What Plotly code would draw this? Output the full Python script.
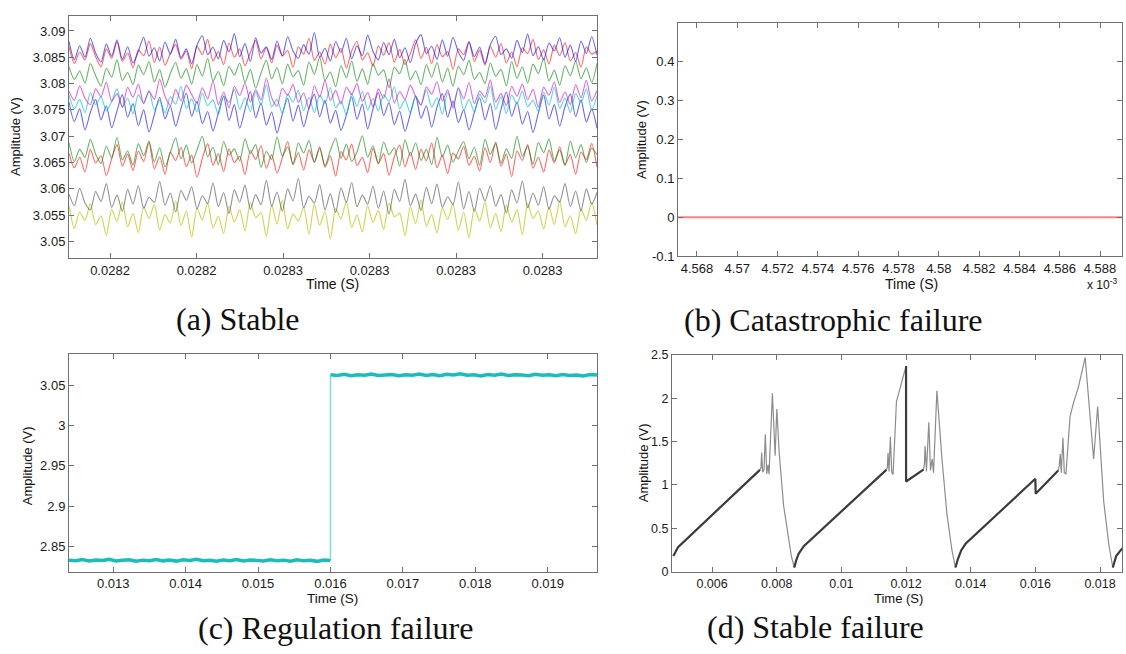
import numpy as np
import plotly.graph_objects as go

W, H = 1126, 654

# ---------------- (a) Stable: ten rail voltages, in 0.1 mV above 3 V ----------------
t_a_start, t_a_end = 0.02822526, 0.0282863
a_x_ticks = [0.02823, 0.02824, 0.02825, 0.02826, 0.02827, 0.02828]
a_x_labels = ["0.0282", "0.0282", "0.0283", "0.0283", "0.0283", "0.0283"]
a_y_ticks = [3.05, 3.055, 3.06, 3.065, 3.07, 3.075, 3.08, 3.085, 3.09]
a_y_labels = ["3.05", "3.055", "3.06", "3.065", "3.07", "3.075", "3.08", "3.085", "3.09"]

rail_yellow = [568, 525, 556, 540, 572, 532, 549, 512, 561, 538, 575, 528, 553, 517, 566, 544, 570, 522, 551, 535,
               577, 530, 558, 508, 563, 541, 573, 526, 548, 515, 567, 537, 560, 520, 574, 545, 555, 510, 569, 533,
               578, 524, 552, 539, 565, 514, 571, 531, 557, 505, 562, 543, 576, 527, 550, 518, 568, 536, 559, 523,
               573, 547, 554, 511, 566, 534, 579, 529, 551, 516, 564, 542, 571, 521, 556, 507, 563, 539, 575, 526,
               553, 519, 569, 537, 560, 513, 572, 544, 558, 524, 566, 532, 577, 528, 549, 515, 562, 540, 574, 531]
rail_gray = [590, 568, 601, 573, 560, 595, 576, 610, 565, 588, 557, 599, 571, 606, 563, 584, 574, 614, 569, 592,
             556, 597, 578, 604, 562, 587, 572, 611, 566, 593, 553, 598, 575, 607, 561, 589, 570, 616, 567, 594,
             558, 600, 577, 620, 564, 586, 573, 608, 560, 591, 555, 602, 574, 612, 566, 588, 571, 605, 563, 596,
             552, 599, 576, 618, 568, 590, 559, 603, 572, 609, 565, 585, 570, 613, 562, 595, 557, 601, 577, 606,
             567, 589, 554, 598, 573, 615, 564, 592, 569, 604, 561, 587, 575, 610, 566, 596, 558, 600, 571, 593]
rail_red_lo = [668, 640, 660, 632, 675, 649, 663, 625, 657, 684, 643, 666, 635, 672, 652, 688, 638, 661, 628, 670,
               654, 679, 642, 664, 622, 658, 686, 645, 667, 633, 676, 650, 662, 627, 673, 656, 682, 639, 665, 630,
               659, 690, 646, 669, 636, 674, 651, 680, 641, 663, 624, 671, 655, 685, 644, 660, 631, 677, 648, 667,
               626, 661, 683, 642, 670, 637, 675, 653, 687, 640, 664, 629, 668, 657, 681, 645, 662, 634, 678, 650,
               689, 643, 666, 623, 672, 654, 684, 639, 660, 632, 674, 649, 680, 646, 665, 628, 670, 656, 686, 641]
rail_green_lo = [688, 652, 675, 660, 694, 666, 648, 681, 659, 698, 655, 672, 645, 686, 663, 691, 651, 678, 642, 669,
                 697, 657, 683, 649, 674, 700, 661, 679, 646, 690, 664, 676, 653, 695, 667, 684, 641, 671, 656, 699,
                 662, 680, 647, 687, 668, 692, 650, 677, 644, 673, 696, 658, 685, 652, 670, 701, 660, 682, 648, 689,
                 665, 678, 643, 693, 663, 687, 654, 675, 646, 698, 661, 683, 651, 672, 690, 657, 679, 645, 694, 666,
                 686, 649, 676, 658, 700, 662, 681, 647, 688, 669, 695, 653, 674, 644, 691, 659, 684, 650, 677, 665]
rail_blue_lo = [765, 728, 752, 712, 745, 770, 731, 758, 716, 748, 779, 736, 762, 720, 750, 708, 741, 774, 733, 757,
                719, 753, 782, 738, 766, 724, 747, 710, 744, 776, 730, 760, 715, 751, 785, 735, 763, 721, 746, 706,
                742, 772, 729, 759, 718, 754, 780, 737, 768, 725, 749, 711, 740, 775, 732, 761, 714, 752, 783, 739,
                764, 722, 748, 709, 743, 777, 734, 758, 717, 755, 781, 736, 767, 726, 750, 712, 745, 773, 731, 762,
                713, 751, 784, 738, 765, 723, 747, 707, 744, 778, 733, 760, 719, 756, 780, 737, 769, 727, 752, 715]
rail_cyan = [778, 752, 770, 745, 783, 760, 775, 748, 766, 790, 755, 772, 742, 779, 763, 786, 750, 768, 744, 775,
             761, 795, 753, 771, 746, 782, 758, 769, 741, 777, 764, 789, 751, 773, 747, 784, 759, 798, 756, 770,
             743, 780, 765, 787, 749, 774, 745, 778, 762, 792, 754, 767, 740, 781, 757, 785, 750, 772, 748, 779,
             766, 794, 752, 769, 744, 776, 760, 788, 755, 773, 742, 783, 758, 791, 749, 770, 746, 780, 763, 796,
             751, 775, 743, 778, 761, 786, 756, 768, 747, 784, 759, 793, 753, 772, 745, 781, 764, 790, 750, 776]
rail_magenta = [785, 768, 796, 772, 760, 790, 775, 803, 766, 781, 755, 793, 774, 799, 762, 786, 770, 808, 776, 758,
                789, 767, 797, 779, 763, 792, 771, 805, 760, 784, 754, 795, 777, 801, 765, 788, 769, 810, 773, 757,
                791, 778, 798, 764, 782, 752, 796, 774, 806, 768, 787, 761, 793, 779, 800, 766, 783, 756, 790, 772,
                809, 763, 785, 770, 797, 775, 759, 794, 780, 804, 767, 788, 753, 792, 771, 802, 762, 786, 774, 807,
                765, 781, 758, 795, 776, 799, 769, 789, 755, 793, 778, 803, 764, 784, 760, 798, 773, 806, 767, 787]
rail_green_hi = [832, 808, 824, 801, 838, 815, 795, 829, 812, 845, 806, 821, 798, 835, 817, 842, 803, 826, 793, 819,
                 840, 810, 828, 799, 836, 814, 848, 805, 823, 796, 833, 816, 839, 802, 827, 791, 820, 844, 809, 830,
                 800, 837, 813, 825, 797, 841, 818, 850, 806, 822, 794, 834, 811, 843, 804, 828, 799, 838, 816, 826,
                 792, 831, 819, 846, 807, 824, 798, 836, 812, 840, 803, 829, 795, 833, 817, 844, 808, 821, 800, 839,
                 814, 827, 796, 842, 810, 832, 801, 837, 819, 848, 805, 825, 797, 834, 815, 843, 809, 830, 802, 838]
rail_red_hi = [870, 838, 860, 845, 876, 851, 832, 866, 848, 879, 842, 858, 830, 864, 853, 881, 840, 869, 835, 857,
               874, 846, 862, 828, 871, 855, 884, 843, 861, 836, 877, 850, 866, 834, 859, 882, 847, 868, 839, 873,
               852, 863, 831, 870, 856, 886, 844, 860, 837, 875, 849, 867, 829, 862, 880, 845, 858, 833, 872, 854,
               878, 841, 865, 836, 857, 883, 848, 869, 838, 874, 851, 861, 827, 866, 855, 880, 842, 863, 835, 871,
               850, 876, 839, 860, 832, 868, 857, 884, 846, 864, 837, 873, 853, 878, 843, 859, 831, 870, 856, 862]
rail_blue_hi = [880, 845, 872, 850, 886, 858, 841, 875, 852, 883, 846, 870, 839, 861, 888, 852, 868, 843, 879, 856,
                884, 849, 866, 838, 873, 891, 855, 869, 847, 882, 860, 895, 851, 876, 842, 887, 858, 870, 846, 881,
                853, 889, 862, 848, 874, 856, 897, 850, 867, 843, 880, 859, 886, 847, 872, 853, 892, 861, 845, 878,
                855, 884, 849, 868, 840, 876, 893, 857, 871, 846, 883, 852, 888, 860, 844, 879, 851, 869, 838, 874,
                890, 855, 866, 848, 882, 859, 894, 853, 870, 845, 877, 862, 887, 850, 873, 842, 881, 857, 889, 854]

rails = [
    (rail_yellow, "rgba(190,190,0,0.7)"),
    (rail_gray, "rgba(70,70,70,0.6)"),
    (rail_red_lo, "rgba(255,0,0,0.6)"),
    (rail_green_lo, "rgba(0,130,0,0.6)"),
    (rail_blue_lo, "rgba(0,0,255,0.6)"),
    (rail_cyan, "rgba(0,190,190,0.65)"),
    (rail_magenta, "rgba(200,0,200,0.6)"),
    (rail_green_hi, "rgba(0,130,0,0.6)"),
    (rail_red_hi, "rgba(255,0,0,0.6)"),
    (rail_blue_hi, "rgba(0,0,255,0.6)"),
]

# ---------------- (b) Catastrophic failure: output collapsed to 0 V (time in ms) ----------------
b_time_ms = [4.56706, 4.58909]
b_amplitude = [0.0, 0.0]
b_x_ticks = [4.568, 4.570, 4.572, 4.574, 4.576, 4.578, 4.580, 4.582, 4.584, 4.586, 4.588]
b_x_labels = ["4.568", "4.57", "4.572", "4.574", "4.576", "4.578", "4.58", "4.582", "4.584", "4.586", "4.588"]
b_y_ticks = [-0.1, 0, 0.1, 0.2, 0.3, 0.4]
b_y_labels = ["-0.1", "0", "0.1", "0.2", "0.3", "0.4"]

# ---------------- (c) Regulation failure: level jump at 16 ms ----------------
c_t_start, c_t_step, c_t_end = 0.01239, 0.016, 0.01968
c_before = [2.8328, 2.8321, 2.8335, 2.8318, 2.8330, 2.8324, 2.8338, 2.8319, 2.8327, 2.8333,
            2.8316, 2.8329, 2.8322, 2.8336, 2.8320, 2.8331, 2.8317, 2.8334, 2.8325, 2.8339,
            2.8321, 2.8328, 2.8315, 2.8332, 2.8323, 2.8337, 2.8319, 2.8330, 2.8326, 2.8318,
            2.8334, 2.8322, 2.8329, 2.8316, 2.8333, 2.8320, 2.8327, 2.8314, 2.8331, 2.8324]
c_after = [3.0628, 3.0621, 3.0635, 3.0618, 3.0630, 3.0624, 3.0639, 3.0620, 3.0627, 3.0633,
           3.0617, 3.0629, 3.0623, 3.0637, 3.0619, 3.0631, 3.0616, 3.0634, 3.0625, 3.0640,
           3.0622, 3.0628, 3.0615, 3.0632, 3.0624, 3.0638, 3.0620, 3.0630, 3.0626, 3.0618,
           3.0635, 3.0623, 3.0629, 3.0617, 3.0633, 3.0621, 3.0627, 3.0614, 3.0631, 3.0625]
c_x_ticks = [0.013, 0.014, 0.015, 0.016, 0.017, 0.018, 0.019]
c_x_labels = ["0.013", "0.014", "0.015", "0.016", "0.017", "0.018", "0.019"]
c_y_ticks = [2.85, 2.9, 2.95, 3.0, 3.05]
c_y_labels = ["2.85", "2.9", "2.95", "3", "3.05"]

# ---------------- (d) Stable failure: ramp-and-collapse waveform ----------------
d_time = [0.004801, 0.004947, 0.007480, 0.007512, 0.007533, 0.007564, 0.007606, 0.007647, 0.007689, 0.007731,
          0.007762, 0.007866, 0.007908, 0.007950, 0.008002, 0.008075, 0.008210, 0.008346, 0.008450, 0.008544,
          0.008596, 0.008679, 0.008836, 0.011390, 0.011421, 0.011442, 0.011474, 0.011515, 0.011557, 0.011599,
          0.011651, 0.011703, 0.012000, 0.012001, 0.012537, 0.012568, 0.012589, 0.012631, 0.012704, 0.012756,
          0.012808, 0.012850, 0.012954, 0.013111, 0.013267, 0.013423, 0.013528, 0.013601, 0.013705, 0.013840,
          0.016000, 0.016009, 0.016707, 0.016738, 0.016770, 0.016801, 0.016853, 0.016895, 0.016947, 0.017073,
          0.017177, 0.017333, 0.017541, 0.017802, 0.017927, 0.018115, 0.018271, 0.018396, 0.018500, 0.018636,
          0.018761]
d_amplitude = [0.182, 0.284, 1.174, 1.200, 1.375, 1.148, 1.178, 1.583, 1.129, 1.231,
               1.125, 2.057, 1.697, 1.337, 1.875, 1.375, 0.769, 0.409, 0.182, 0.049,
               0.125, 0.208, 0.295, 1.174, 1.200, 1.367, 1.155, 1.557, 1.148, 1.121,
               1.640, 1.962, 2.370, 1.040, 1.178, 1.240, 1.450, 1.155, 1.723, 1.167,
               1.300, 1.140, 2.087, 1.300, 0.655, 0.239, 0.049, 0.144, 0.246, 0.322,
               1.072, 0.900, 1.167, 1.220, 1.356, 1.140, 1.545, 1.140, 1.129, 1.790,
               1.943, 2.130, 2.470, 1.300, 1.905, 0.807, 0.314, 0.049, 0.182, 0.246,
               0.295]
# charging ramps (start, end) in seconds, drawn heavier
d_ramps = [(0.00480, 0.00748), (0.00854, 0.01139), (0.01200, 0.01254),
           (0.01352, 0.01600), (0.01600, 0.01671), (0.01839, 0.01877)]
d_x_ticks = [0.006, 0.008, 0.010, 0.012, 0.014, 0.016, 0.018]
d_x_labels = ["0.006", "0.008", "0.01", "0.012", "0.014", "0.016", "0.018"]
d_y_ticks = [0, 0.5, 1, 1.5, 2, 2.5]
d_y_labels = ["0", "0.5", "1", "1.5", "2", "2.5"]

# ---------------- figure ----------------
fig = go.Figure()

t_a = np.linspace(t_a_start, t_a_end, len(rail_blue_hi))
for values, color in rails:
    fig.add_trace(go.Scatter(x=t_a, y=3.0 + np.array(values) / 10000.0, mode="lines",
                             line=dict(color=color, width=1.1, shape="spline", smoothing=0.7),
                             xaxis="x", yaxis="y", showlegend=False, hoverinfo="skip"))

fig.add_trace(go.Scatter(x=b_time_ms, y=b_amplitude, mode="lines",
                         line=dict(color="rgba(255,90,90,0.75)", width=2),
                         xaxis="x2", yaxis="y2", showlegend=False))

t_before = np.linspace(c_t_start, c_t_step, len(c_before))
t_after = np.linspace(c_t_step, c_t_end, len(c_after))
fig.add_trace(go.Scatter(x=[c_t_step, c_t_step], y=[c_before[-1], c_after[0]], mode="lines",
                         line=dict(color="#7fdede", width=1.5), xaxis="x3", yaxis="y3", showlegend=False))
fig.add_trace(go.Scatter(x=t_before, y=c_before, mode="lines",
                         line=dict(color="#1cbcbc", width=3.5), xaxis="x3", yaxis="y3", showlegend=False))
fig.add_trace(go.Scatter(x=t_after, y=c_after, mode="lines",
                         line=dict(color="#1cbcbc", width=3.5), xaxis="x3", yaxis="y3", showlegend=False))

fig.add_trace(go.Scatter(x=d_time, y=d_amplitude, mode="lines",
                         line=dict(color="#8c8c8c", width=1.2), xaxis="x4", yaxis="y4", showlegend=False))
ramp_x, ramp_y = [], []
for t0, t1 in d_ramps:
    for t, v in zip(d_time, d_amplitude):
        if t0 <= t <= t1:
            ramp_x.append(t)
            ramp_y.append(v)
    ramp_x.append(None)
    ramp_y.append(None)
fig.add_trace(go.Scatter(x=ramp_x, y=ramp_y, mode="lines",
                         line=dict(color="#3c3c3c", width=2.2), xaxis="x4", yaxis="y4", showlegend=False))


def dom_x(x0, x1):
    return [x0 / W, x1 / W]


def dom_y(y0, y1):
    return [1 - y1 / H, 1 - y0 / H]


def axis(domain, rng, tickvals, ticktext, size, anchor):
    return dict(domain=domain, range=rng, tickvals=tickvals, ticktext=ticktext, anchor=anchor,
                showline=True, linecolor="#707070", linewidth=1, mirror="ticks",
                ticks="inside", ticklen=5, tickcolor="#707070", showgrid=False, zeroline=False,
                tickfont=dict(family="Liberation Sans, Arial, sans-serif", size=size, color="#1a1a1a"),
                fixedrange=True)


fig.update_layout(
    width=W, height=H, margin=dict(l=0, r=0, t=0, b=0),
    paper_bgcolor="white", plot_bgcolor="white", showlegend=False,
    xaxis=axis(dom_x(69, 597), [t_a_start, t_a_end], a_x_ticks, a_x_labels, 13, "y"),
    yaxis=axis(dom_y(9, 257), [3.04684, 3.09288], a_y_ticks, a_y_labels, 13, "x"),
    xaxis2=axis(dom_x(678, 1122), b_time_ms, b_x_ticks, b_x_labels, 13, "y2"),
    yaxis2=axis(dom_y(16, 255), [-0.1, 0.5], b_y_ticks, b_y_labels, 13, "x2"),
    xaxis3=axis(dom_x(69, 597), [c_t_start, c_t_end], c_x_ticks, c_x_labels, 13, "y3"),
    yaxis3=axis(dom_y(355, 578), [2.8185, 3.0888], c_y_ticks, c_y_labels, 13, "x3"),
    xaxis4=axis(dom_x(672, 1122), [0.00476, 0.01868], d_x_ticks, d_x_labels, 12.5, "y4"),
    yaxis4=axis(dom_y(356, 578), [0, 2.5], d_y_ticks, d_y_labels, 12.5, "x4"),
)

sans = "Liberation Sans, Arial, sans-serif"
serif = "Liberation Serif, Times New Roman, serif"


def label(text, px, py, size, angle=0, family=sans):
    fig.add_annotation(text=text, x=px / W, y=1 - py / H, xref="paper", yref="paper",
                       showarrow=False, textangle=angle, xanchor="center", yanchor="middle",
                       font=dict(family=family, size=size, color="#111"))


# axis titles
label("Amplitude (V)", 16, 133, 13, -90)
label("Time (S)", 333, 284, 14)
label("Amplitude (V)", 642, 136, 13, -90)
label("Time (S)", 911, 284, 14)
label("x 10<sup>-3</sup>", 1102, 283, 12)
label("Amplitude (V)", 27, 470, 13, -90)
label("Time (S)", 332, 605, 13.5)
label("Amplitude (V)", 643, 467, 13, -90)
label("Time (S)", 898, 605, 13)

# panel captions
label("(a) Stable", 238, 319, 32, family=serif)
label("(b) Catastrophic failure", 833, 320, 32, family=serif)
label("(c) Regulation failure", 335, 636, 32, family=serif)
label("(d) Stable failure", 815, 635, 32, family=serif)

fig.write_html("out.html")
